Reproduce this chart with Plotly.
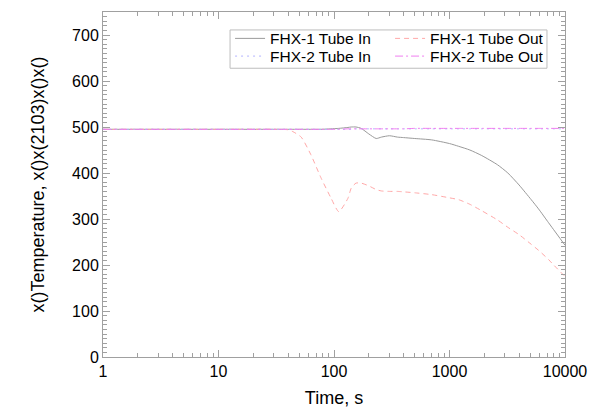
import plotly.graph_objects as go

time_s = [1, 10, 30, 40, 44, 52, 63, 77, 94, 110, 132, 141, 155, 172, 200, 232, 257,
          302, 355, 400, 500, 700, 1000, 1200, 1500, 1900, 2600, 3200, 4000, 5100,
          5900, 7200, 7700, 10000]

fhx1_tube_in = [495, 495, 495, 495, 495, 495, 495, 495, 496, 497, 499, 500, 500, 497, 485,
                475, 478, 481, 478, 477, 475, 472, 464, 458, 450, 438, 418, 400, 374, 342,
                322, 292, 282, 243]

fhx1_tube_out = [495, 495, 495, 494, 490, 478, 440, 390, 346, 316, 345, 367, 378, 378, 372,
                 364, 361, 360, 360, 359, 357, 353, 346, 342, 332, 318, 298, 282, 266, 245,
                 232, 212, 204, 175]

fhx2_tube_in = [495, 495, 495, 495, 495, 495, 495, 495, 495, 495, 495, 495, 496, 496, 496,
                496, 496, 496, 496, 496, 496, 496, 496, 496, 496, 496, 496, 496, 496, 496,
                496, 496, 496, 496]

fhx2_tube_out = [495, 495, 495, 495, 495, 495, 495, 495, 495, 495, 496, 496, 496, 496, 496,
                 496, 496, 496, 496, 496, 497, 497, 497, 497, 497, 497, 497, 497, 497, 497,
                 497, 497, 497, 497]

series_names = ["FHX-1 Tube In", "FHX-1 Tube Out", "FHX-2 Tube In", "FHX-2 Tube Out"]
series_values = [fhx1_tube_in, fhx1_tube_out, fhx2_tube_in, fhx2_tube_out]
series_colors = ["#9a9a9a", "#ffa8a8", "#b4b4ff", "#f07ef0"]
series_dash = ["solid", "5px,4px", "2px,4px", "8px,3px,2px,3px"]
series_legend = ["legend", "legend", "legend2", "legend2"]

x_tick_vals = [1, 10, 100, 1000, 10000]
x_tick_text = ["1", "10", "100", "1000", "10000"]

fig = go.Figure()
for name, vals, col, dash, lg in zip(series_names, series_values, series_colors, series_dash, series_legend):
    fig.add_trace(go.Scatter(x=time_s, y=vals, mode="lines", name=name, legend=lg,
                             line=dict(color=col, width=1, dash=dash, shape="spline", smoothing=0.6)))

axis_col = "#a0a0a0"
leg_common = dict(orientation="h", xanchor="left", yanchor="middle",
                  entrywidth=115, entrywidthmode="pixels",
                  borderwidth=0, bgcolor="rgba(0,0,0,0)",
                  font=dict(size=15.5), itemwidth=30, tracegroupgap=0)

fig.update_layout(
    width=605, height=416,
    margin=dict(l=103, r=40, t=11, b=54),
    paper_bgcolor="white", plot_bgcolor="white",
    font=dict(family="Liberation Sans, Arial, sans-serif", color="black", size=15),
    showlegend=True,
    legend=dict(x=0.275, y=0.9223, **leg_common),
    legend2=dict(x=0.275, y=0.871, **leg_common),
    shapes=[dict(type="rect", xref="paper", yref="paper",
                 x0=0.275, x1=0.961, y0=0.837, y1=0.948,
                 line=dict(color="#bdbdbd", width=1), fillcolor="white", layer="above")],
    xaxis=dict(type="log", range=[0, 4], tickvals=x_tick_vals, ticktext=x_tick_text,
               ticks="inside", ticklen=7, tickcolor=axis_col, showline=True,
               linecolor=axis_col, linewidth=1, mirror="ticks", showgrid=False, zeroline=False,
               minor=dict(ticks="inside", ticklen=4, tickcolor=axis_col, dtick="D1", showgrid=False),
               title=dict(text="Time, s", font=dict(size=18), standoff=12),
               tickfont=dict(size=16)),
    yaxis=dict(range=[0, 750], tick0=0, dtick=100, ticks="inside", ticklen=7, tickcolor=axis_col,
               showline=True, linecolor=axis_col, linewidth=1, mirror="ticks", showgrid=False,
               zeroline=False,
               minor=dict(ticks="inside", ticklen=4, tickcolor=axis_col, dtick=10, showgrid=False),
               title=dict(text="x()Temperature, x()x(2103)x()x()", font=dict(size=18), standoff=22),
               tickfont=dict(size=16)),
)

fig.write_html("out.html")
